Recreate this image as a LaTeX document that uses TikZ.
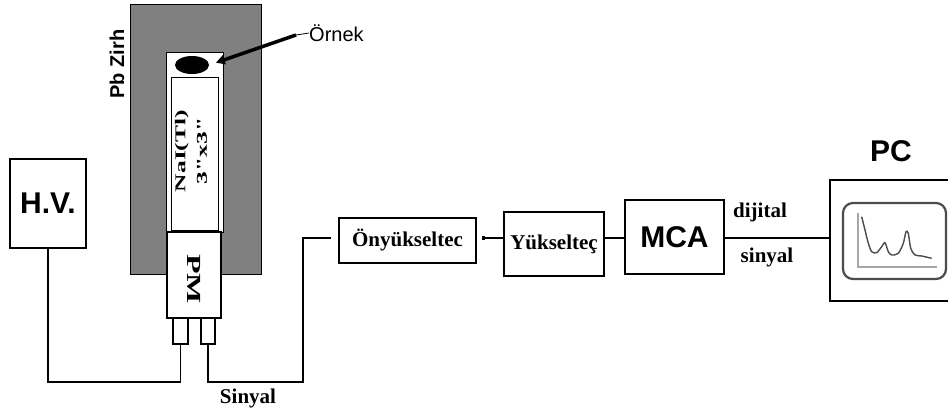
\documentclass[tikz,border=0pt]{standalone}
\usepackage{fontspec}
\setmainfont{Liberation Serif}
\newfontfamily\arialfont{Liberation Sans}
\usetikzlibrary{arrows.meta,calc,shapes.geometric}
\definecolor{shieldgray}{RGB}{128,128,128}
\begin{document}
\begin{tikzpicture}[x=1pt,y=-1pt,
  wire/.style={line width=1.3pt},
  box/.style={draw, line width=1.3pt, fill=white, rectangle, inner sep=0pt},
  serifbold/.style={font=\fontsize{21}{23}\selectfont\bfseries},
  sansbig/.style={font=\arialfont\fontsize{30}{32}\selectfont\bfseries},
  stretched/.style={inner sep=0pt, align=center}
]
\useasboundingbox (0,0) rectangle (948,410);
\clip (0,0) rectangle (948,410);
\fill[white] (0,0) rectangle (948,410);

% lead shield with the detector cavity
\node[draw, line width=1.3pt, fill=shieldgray, minimum width=131pt, minimum height=270pt,
      inner sep=0pt, anchor=north west] (shield) at (130,4) {};
\node[rotate=90, font=\arialfont\fontsize{20}{22}\selectfont\bfseries] (pbzirh) at (117,64) {Pb Zirh};
\node[draw, line width=0.9pt, fill=white, minimum width=57pt, minimum height=180pt,
      inner sep=0pt, anchor=north west] (cavity) at (166,52) {};
\node[draw, line width=1.1pt, fill=white, minimum width=47pt, minimum height=153pt,
      inner sep=0pt, anchor=north west] (nai) at (171,77) {};
\node[rotate=90, stretched, font=\fontsize{15}{21.5}\selectfont\bfseries] (nailabel) at (191,151)
  {\scalebox{1.7}[1]{NaI(Tl)}\\\scalebox{1.7}[1]{3\textquotedbl x3\textquotedbl}};

% sample and its label
\node[ellipse, fill=black, minimum width=34pt, minimum height=18pt, inner sep=0pt] (sample) at (192,65) {};
\node[anchor=west, inner sep=0pt, font=\arialfont\fontsize{20}{22}\selectfont] (ornek) at (309,33) {Örnek};
\coordinate (bend) at (296,35);
\draw[line width=0.8pt] (ornek.west) -- (bend);
\draw[line width=3.5pt, -{Triangle[length=9pt,width=9pt]}, shorten >=7pt] (bend) -- (sample.east);

% photomultiplier and its connector pins
\node[box, minimum width=54pt, minimum height=86pt] (pm) at (194,275) {};
\node[rotate=-90, font=\fontsize{20}{22}\selectfont\bfseries] (pmlabel) at (194,279) {\scalebox{1.6}[1]{PM}};
\node[box, minimum width=15pt, minimum height=26pt] (legL) at (180.5,331) {};
\node[box, minimum width=14pt, minimum height=26pt] (legR) at (208,331) {};

% high voltage supply
\node[box, minimum width=76pt, minimum height=89pt, sansbig] (hv) at (48,203.5) {H.V.};

% signal chain
\node[box, minimum width=137pt, minimum height=45pt, serifbold] (on) at (407.5,240.5) {Önyükseltec};
\node[box, minimum width=100pt, minimum height=64pt, serifbold] (yuk) at (554,244) {Yükselteç};
\node[box, minimum width=99pt, minimum height=74pt, sansbig] (mca) at (674.5,237) {MCA};
\node[box, minimum width=130pt, minimum height=121pt] (pc) at (895,240.5) {};
\node[sansbig] (pclabel) at (891,151) {PC};

% monitor with a spectrum
\node[draw=black!70, line width=2.2pt, rounded corners=10pt, minimum width=103pt,
      minimum height=76pt, inner sep=0pt] (screen) at (894.5,241) {};
\draw[black!35, line width=1.5pt] (858,213) -- (858,267) -- (937,267);
\draw[black!70, line width=1.4pt] plot[smooth, tension=0.45] coordinates {
  (861.7,216.7) (865,230) (868.3,243.3) (871.7,251.7) (876.7,252.7) (881.7,246.7)
  (885,242.7) (888.3,251.7) (891.7,255) (898.3,253.3) (903.3,243.3) (906,231.7)
  (908.3,233.3) (910.7,248.3) (915,255) (921.7,256) (931.7,258.3)};

% wiring
\coordinate (bus) at (0,382);
\coordinate (turn) at (303,238);
\draw[wire] (hv.south) |- (legL.south |- bus) -- (legL.south);
\draw[wire, shorten >=7pt] (legR.south) -- (legR.south |- bus) -| (turn) -- (on.west |- turn);
\draw[wire, {Square[length=3pt,width=3.5pt]}-, shorten <=5pt] (on.east |- turn) -- (yuk.west |- turn);
\draw[wire] (yuk.east |- turn) -- (mca.west |- turn);
\draw[wire] (mca.east |- turn) -- (pc.west |- turn);

% wire labels
\node[serifbold] (sinyalA) at (248,398) {Sinyal};
\node[serifbold] (dijital) at (760,212) {dijital};
\node[serifbold] (sinyalB) at (767,257) {sinyal};
\end{tikzpicture}
\end{document}
